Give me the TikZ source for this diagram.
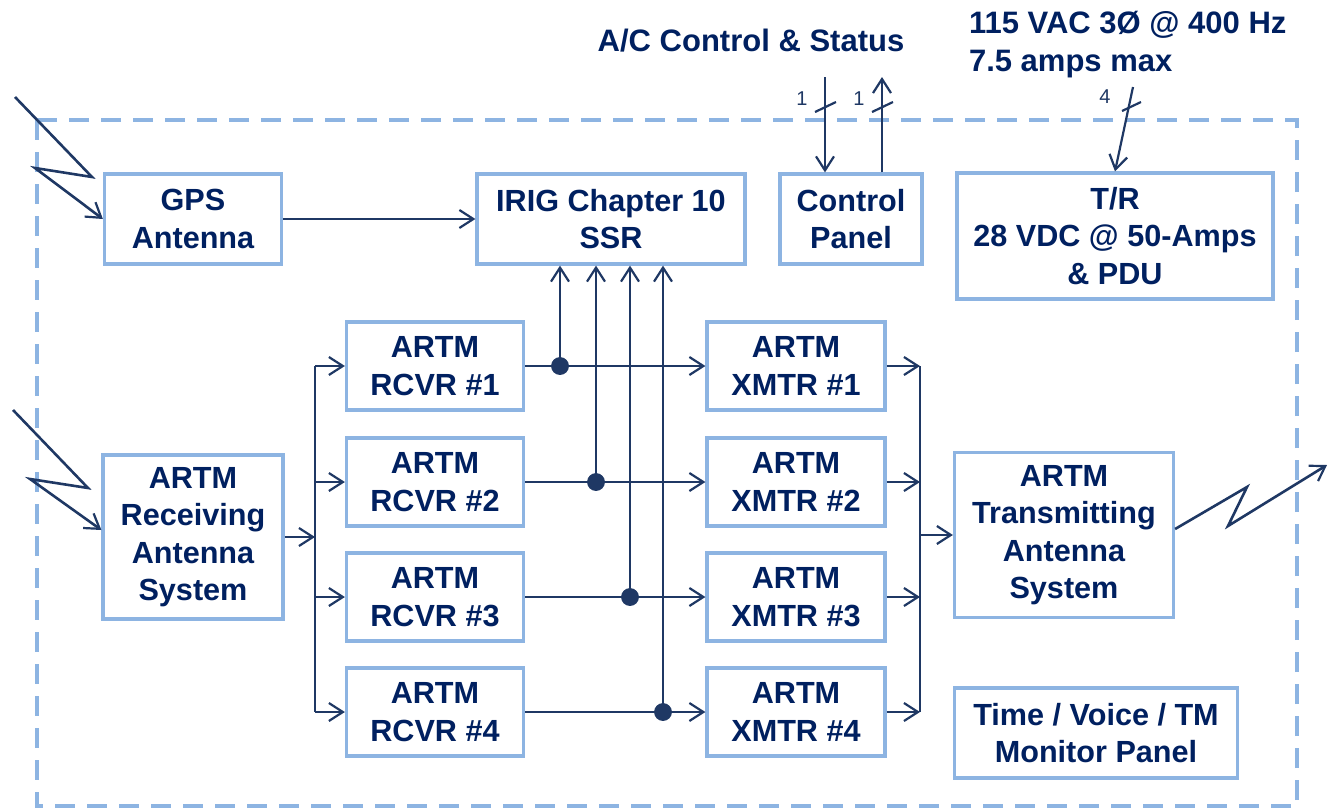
\documentclass[tikz,border=0pt]{standalone}
\usepackage{fontspec}
\setmainfont{Liberation Sans}
\usetikzlibrary{arrows.meta}
\definecolor{navy}{HTML}{002060}
\definecolor{boxblue}{HTML}{8DB4E2}
\definecolor{wirecol}{HTML}{1F3864}

\begin{document}
\begin{tikzpicture}[x=0.5pt,y=-0.5pt,
  blk/.style={draw=boxblue,line width=1.6pt,fill=white,text=navy,align=center,inner sep=0pt,
    font=\bfseries\fontsize{15.3}{18.7}\selectfont},
  wire/.style={draw=wirecol,line width=1.1pt},
  flow/.style={wire,-{Straight Barb[length=7pt,width=9pt,line width=1.1pt]}},
  jdot/.style={circle,fill=wirecol,draw=wirecol,inner sep=0pt,minimum size=8.5pt},
  toplbl/.style={text=navy,font=\bfseries\fontsize{15.5}{19}\selectfont},
  buslbl/.style={text=wirecol,font=\fontsize{10}{12}\selectfont}]
\useasboundingbox (0,0) rectangle (1335,810);
%outer frame
\draw[boxblue,line width=1.8pt,dash pattern=on 10pt off 6pt] (37,120) rectangle (1297,806);

\node[blk,minimum width=88.5pt,minimum height=45pt] (gps) at (193,219) {GPS\\Antenna};
\node[blk,minimum width=134pt,minimum height=45pt] (ssr) at (611,219) {IRIG Chapter 10\\SSR};
\node[blk,minimum width=71pt,minimum height=45pt] (ctrl) at (851,219) {Control\\Panel};
\node[blk,minimum width=158pt,minimum height=63pt] (tr) at (1115,236) {T/R\\28 VDC @ 50-Amps\\\& PDU};
\node[blk,minimum width=90pt,minimum height=82pt] (rx) at (193,537) {ARTM\\Receiving\\Antenna\\System};
\node[blk,minimum width=109.5pt,minimum height=82.5pt] (tx) at (1064,535) {ARTM\\Transmitting\\Antenna\\System};
\node[blk,minimum width=141.5pt,minimum height=45pt] (mon) at (1096,733) {Time / Voice / TM\\Monitor Panel};

\node[toplbl] (acs) at (751,41) {A/C Control \& Status};
\node[toplbl,anchor=west,align=left] (pwrlbl) at (962,45) {115 VAC 3Ø @ 400 Hz\\7.5 amps max};

%receivers, transmitters and taps to the SSR
\foreach \i/\y/\dx in {1/366/560,2/482/596,3/597/630,4/712/663}{
  \node[blk,minimum width=88.5pt,minimum height=44pt] (r\i) at (435,\y) {ARTM\\RCVR \#\i};
  \node[blk,minimum width=89pt,minimum height=44pt] (x\i) at (796,\y) {ARTM\\XMTR \#\i};
  \draw[flow] (r\i.east) -- (x\i.west);
  \coordinate (d\i) at (\dx,\y);
  \draw[flow] (d\i) -- (d\i |- ssr.south);
  \node[jdot] at (d\i) {};
}

\draw[flow] (gps.east) -- (ssr.west);

%splitter bus
\coordinate (lbus) at (315,537);
\draw[flow] (rx.east) -- (lbus);
\draw[wire] (lbus |- r1.west) -- (lbus |- r4.west);
\foreach \i in {1,...,4}
  \draw[flow] (lbus |- r\i.west) -- (r\i.west);

%combiner bus
\coordinate (rbus) at (920,535);
\foreach \i in {1,...,4}
  \draw[flow] (x\i.east) -- (rbus |- x\i.east);
\draw[wire] (rbus |- x1.east) -- (rbus |- x4.east);
\draw[flow] (rbus) -- (tx.west);

%control and status lines
\coordinate (cin) at (825,77);
\coordinate (cout) at (882,77);
\draw[flow] (cin) -- (cin |- ctrl.north);
\draw[flow] (cout |- ctrl.north) -- (cout);
\draw[wire] (815,112) -- (836,102);
\draw[wire] (872,112) -- (893,102);
\node[buslbl] (n1) at (802,99) {1};
\node[buslbl] (n2) at (859,99) {1};

%power
\coordinate (pwr) at (1133,87);
\draw[flow] (pwr) -- (tr.north);
\draw[wire] (1122,111) -- (1141,102);
\node[buslbl] (n4) at (1105,97) {4};

%RF links
\draw[flow,line width=1.3pt,line join=miter] (15,97) -- (92,177) -- (35,168) -- (gps.west);
\draw[flow,line width=1.3pt,line join=miter] (13,410) -- (88,488) -- (30,479) -- ([yshift=3.5pt]rx.west);
\draw[flow,line width=1.3pt,line join=miter] ([yshift=3pt]tx.east) -- (1247,487) -- (1228,526) -- (1327,465);
\end{tikzpicture}
\end{document}
